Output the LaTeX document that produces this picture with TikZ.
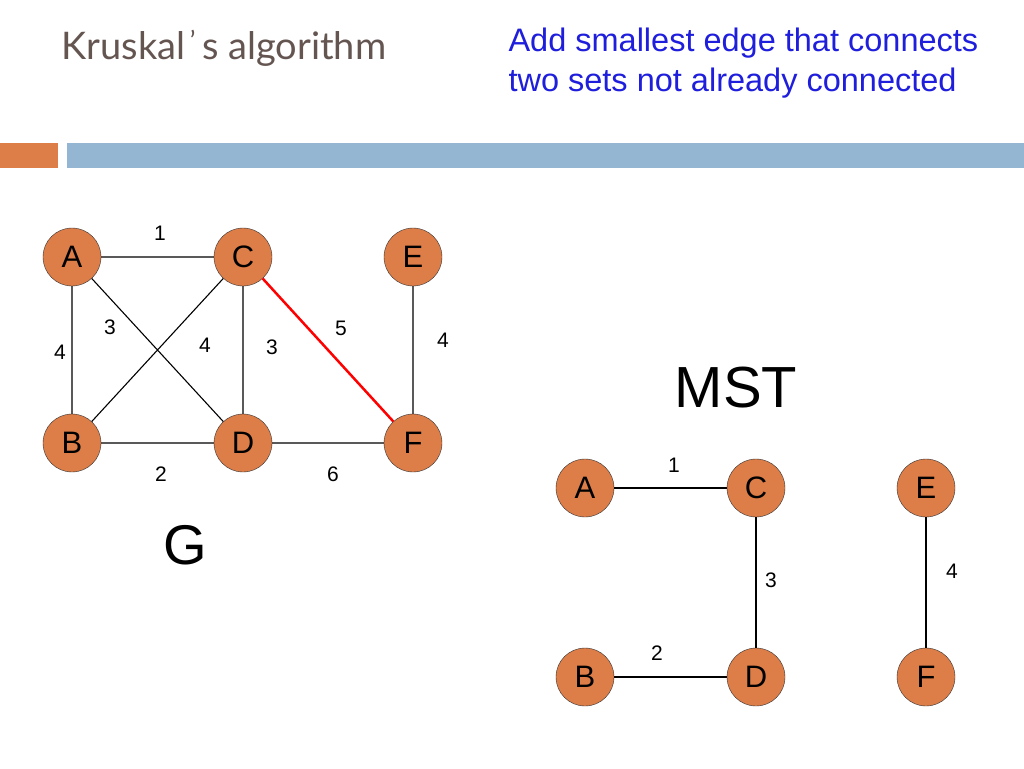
\documentclass[tikz,border=0pt]{standalone}
\usepackage{fontspec}
\setmainfont{Liberation Sans}
\newfontfamily\titlefont{Lato}
\definecolor{nodeor}{RGB}{221,125,72}
\definecolor{barblue}{RGB}{148,182,210}
\definecolor{txtblue}{RGB}{30,30,220}
\definecolor{titlec}{RGB}{100,85,80}
\begin{document}
\begin{tikzpicture}[x=1pt,y=-1pt,
  vert/.style={circle,draw=black!80,fill=nodeor,minimum size=58pt,inner sep=0pt,font=\fontsize{31}{31}\selectfont},
  wlab/.style={font=\fontsize{21}{21}\selectfont},
  edge/.style={draw=black,line width=1.1pt}]
\useasboundingbox (0,0) rectangle (1024,768);
\fill[nodeor] (0,143) rectangle (58,168);
\fill[barblue] (67,143) rectangle (1024,168);
\node[anchor=west,text=titlec,font=\titlefont\fontsize{38}{38}\selectfont] (title) at (58,48) {Kruskal\textsuperscript{\,’}\,s algorithm};
\node[anchor=north west,text=txtblue,align=left,font=\fontsize{32.5}{40}\selectfont] (desc) at (505,24) {Add smallest edge that connects\\two sets not already connected};
% G
\node[vert] (A) at (72,257) {A};
\node[vert] (C) at (243,257) {C};
\node[vert] (E) at (413,257) {E};
\node[vert] (B) at (72,443) {B};
\node[vert] (D) at (243,443) {D};
\node[vert] (F) at (413,443) {F};
\draw[edge] (A)--(C) (A)--(B) (A)--(D) (B)--(C) (C)--(D) (E)--(F) (B)--(D) (D)--(F);
\draw[red,line width=2.5pt] (C)--(F);
\node[wlab] (l1) at (160,233) {1};
\node[wlab] (l2) at (60,352) {4};
\node[wlab] (l3) at (110,327) {3};
\node[wlab] (l4) at (205,345) {4};
\node[wlab] (l5) at (272,347) {3};
\node[wlab] (l6) at (341,328) {5};
\node[wlab] (l7) at (443,340) {4};
\node[wlab] (l8) at (161,474) {2};
\node[wlab] (l9) at (333,474) {6};
\node[font=\fontsize{56}{56}\selectfont] (G) at (185,545) {G};
\node[font=\fontsize{58}{58}\selectfont] (mst) at (736,388) {MST};
% MST
\node[vert] (mA) at (585,488) {A};
\node[vert] (mC) at (756,488) {C};
\node[vert] (mE) at (926,488) {E};
\node[vert] (mB) at (585,677) {B};
\node[vert] (mD) at (756,677) {D};
\node[vert] (mF) at (926,677) {F};
\draw[edge] (mA)--(mC) (mC)--(mD) (mB)--(mD) (mE)--(mF);
\node[wlab] (m1) at (674,465) {1};
\node[wlab] (m3) at (771,580) {3};
\node[wlab] (m4) at (952,571) {4};
\node[wlab] (m2) at (657,653) {2};
\end{tikzpicture}
\end{document}
